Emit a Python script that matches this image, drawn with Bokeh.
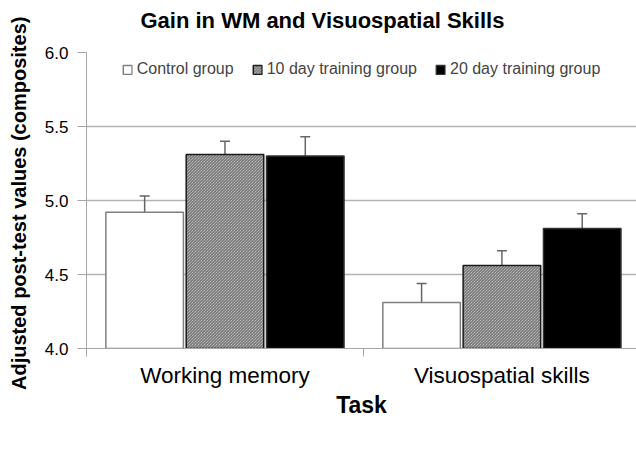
from bokeh.plotting import figure
from bokeh.models import (ColumnDataSource, Whisker, TeeHead, FixedTicker, Legend,
                          LegendItem, LinearAxis, CustomJSTickFormatter)
from bokeh.embed import file_html
from bokeh.resources import INLINE

tasks = ["Working memory", "Visuospatial skills"]
groups = ["Control group", "10 day training group", "20 day training group"]
control = [4.92, 4.31]
ten_day = [5.31, 4.56]
twenty_day = [5.30, 4.81]
control_err = [0.11, 0.13]
ten_day_err = [0.09, 0.10]
twenty_day_err = [0.13, 0.10]
y_ticks = [4.0, 4.5, 5.0, 5.5, 6.0]

FONT = "Liberation Sans"
AXIS_GRAY = "#a6a6a6"

p = figure(frame_width=550, frame_height=296, output_backend="svg", toolbar_location=None,
           x_range=(0, 1.986), y_range=(4.0, 6.0),
           min_border_left=86, min_border_right=0, min_border_top=0, min_border_bottom=0)
p.outline_line_color = None
p.background_fill_color = "white"

xa = p.below[0]
ya = p.left[0]

# invisible spacer between the title and the frame
spacer = LinearAxis(ticker=FixedTicker(ticks=[]), major_tick_out=0, major_tick_in=0,
                    axis_line_color=None, major_tick_line_color=None,
                    minor_tick_line_color=None, major_label_text_font_size="0px",
                    axis_label=".", axis_label_text_alpha=0,
                    axis_label_text_font_size="10px", axis_label_standoff=3)
p.add_layout(spacer, "above")

p.title.text = "Gain in WM and Visuospatial Skills"
p.title.align = "left"
p.title.offset = 54
p.title.text_font = FONT
p.title.text_font_size = "22px"
p.title.text_font_style = "bold"
p.title.text_color = "black"
p.title.standoff = 11

centers = [i + 0.5 for i in range(len(tasks))]
offs = [-0.29, 0.0, 0.29]
width = 0.28

series = [control, ten_day, twenty_day]
errs = [control_err, ten_day_err, twenty_day_err]
styles = [
    dict(fill_color="white", line_color="#7f7f7f", line_width=1.5),
    dict(fill_color="#e4e4e4", line_color="#1a1a1a", line_width=1.5,
         hatch_pattern="\\", hatch_color="#5a5a5a", hatch_scale=3, hatch_weight=1),
    dict(fill_color="black", line_color="#333333", line_width=1.5),
]

items = []
for k, (vals, ev, st) in enumerate(zip(series, errs, styles)):
    xs = [c + offs[k] for c in centers]
    src = ColumnDataSource(dict(x=xs, top=vals, upper=[v + e for v, e in zip(vals, ev)]))
    r = p.vbar(x="x", top="top", bottom=4.0, width=width, source=src, **st)
    items.append(LegendItem(label=groups[k], renderers=[r]))
    w = Whisker(base="x", lower="top", upper="upper", source=src,
                line_color="#666666", line_width=1.5,
                upper_head=TeeHead(size=10, line_color="#666666", line_width=1.5),
                lower_head=None)
    p.add_layout(w)

# y axis
ya.ticker = FixedTicker(ticks=y_ticks)
ya.formatter = CustomJSTickFormatter(code="return tick.toFixed(1);")
ya.axis_label = "Adjusted post-test  values (composites)"
ya.axis_label_text_font = FONT
ya.axis_label_text_font_size = "20px"
ya.axis_label_text_font_style = "bold"
ya.axis_label_text_color = "black"
ya.axis_label_standoff = 12
ya.major_label_text_font = FONT
ya.major_label_text_font_size = "17px"
ya.major_label_text_color = "black"
ya.major_label_standoff = 9
ya.major_tick_in = 0
ya.major_tick_out = 9
ya.minor_tick_line_color = None
ya.axis_line_color = AXIS_GRAY
ya.major_tick_line_color = AXIS_GRAY

# x axis
xa.ticker = FixedTicker(ticks=centers, minor_ticks=[0, 1, 2])
xa.major_label_overrides = {c: t for c, t in zip(centers, tasks)}
xa.axis_label = "Task"
xa.axis_label_text_font = FONT
xa.axis_label_text_font_size = "23px"
xa.axis_label_text_font_style = "bold"
xa.axis_label_text_color = "black"
xa.axis_label_standoff = 1
xa.major_label_text_font = FONT
xa.major_label_text_font_size = "22.5px"
xa.major_label_text_color = "black"
xa.major_label_standoff = 6
xa.major_tick_in = 0
xa.major_tick_out = 0
xa.minor_tick_in = 0
xa.minor_tick_out = 8
xa.minor_tick_line_color = AXIS_GRAY
xa.axis_line_color = AXIS_GRAY

p.xgrid.grid_line_color = None
p.ygrid.ticker = FixedTicker(ticks=y_ticks)
p.ygrid.grid_line_color = "#b3b3b3"
p.ygrid.grid_line_width = 1.5

legend = Legend(items=items, orientation="horizontal", location="top_center",
                label_text_font=FONT, label_text_font_size="16px",
                glyph_width=11, glyph_height=11, label_standoff=4, spacing=18,
                padding=0, margin=8, border_line_color=None,
                background_fill_alpha=0)
p.add_layout(legend)

open("out.html", "w").write(file_html(p, INLINE))
